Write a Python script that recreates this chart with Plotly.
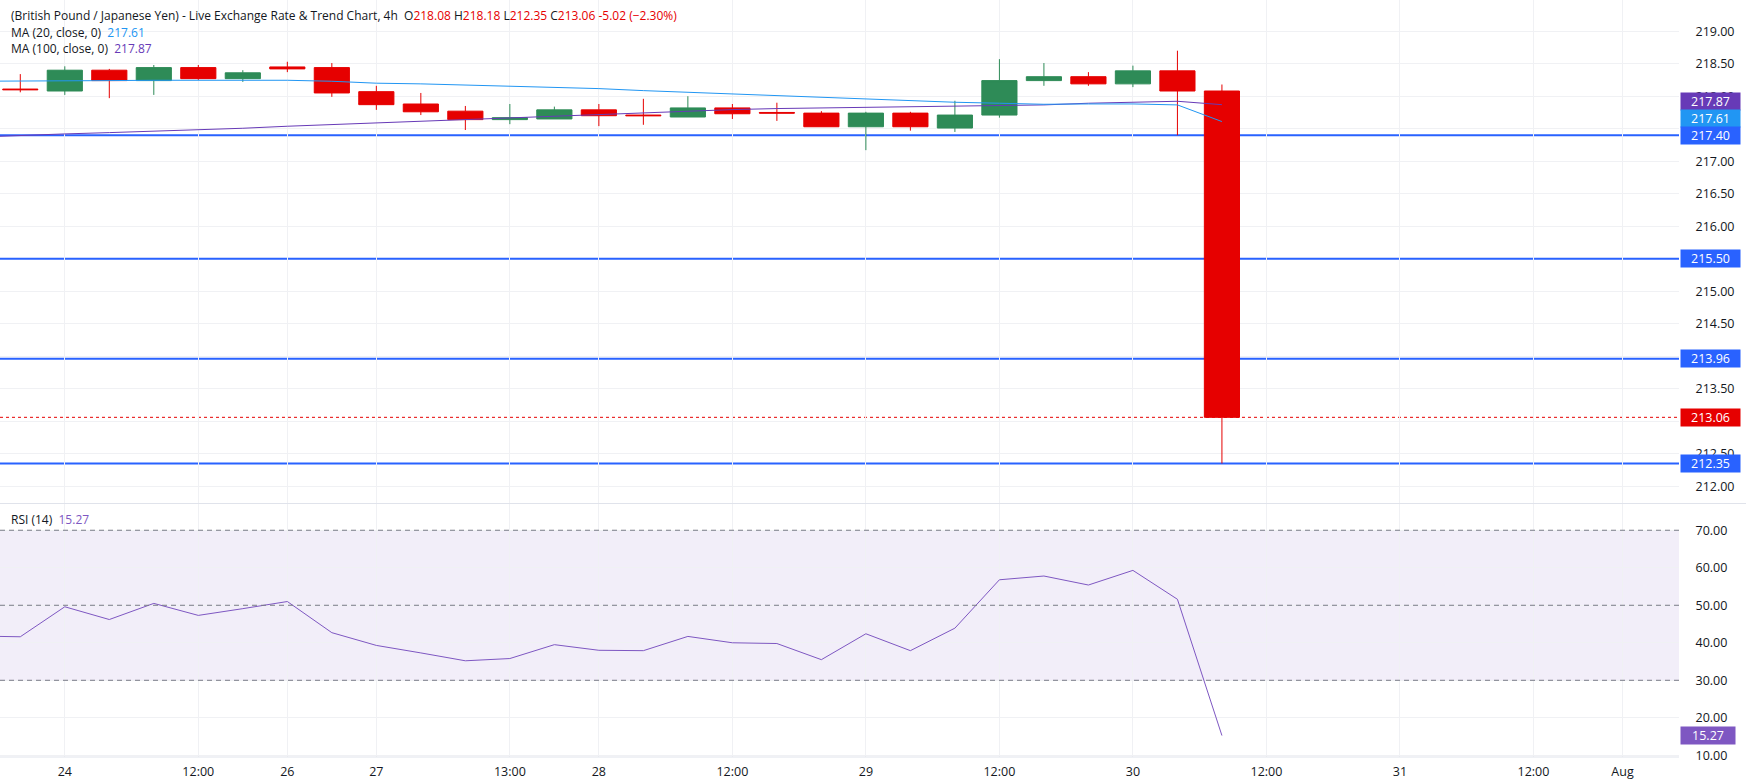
import plotly.graph_objects as go

# ---------------- data ----------------
BAR_INDEX = list(range(28))           # 4h bars shown on the chart
LINE_INDEX = list(range(-1, 28))      # indicator values (one bar before the first visible candle)

OPEN  = [218.11, 218.08, 218.40, 218.24, 218.44, 218.27, 218.45, 218.44, 218.07, 217.88,
         217.77, 217.64, 217.65, 217.79, 217.71, 217.68, 217.82, 217.75, 217.74, 217.53,
         217.74, 217.51, 217.71, 218.24, 218.30, 218.19, 218.39, 218.08]
HIGH  = [218.34, 218.46, 218.42, 218.48, 218.48, 218.40, 218.53, 218.51, 218.16, 218.05,
         217.85, 217.88, 217.84, 217.88, 217.96, 218.00, 217.88, 217.90, 217.77, 217.76,
         217.76, 217.93, 218.57, 218.51, 218.37, 218.47, 218.70, 218.18]
LOW   = [218.06, 218.02, 217.97, 218.02, 218.25, 218.22, 218.37, 217.99, 217.79, 217.71,
         217.48, 217.57, 217.65, 217.54, 217.56, 217.68, 217.65, 217.62, 217.53, 217.17,
         217.47, 217.45, 217.67, 218.16, 218.16, 218.14, 217.40, 212.35]
CLOSE = [218.10, 218.40, 218.24, 218.44, 218.27, 218.36, 218.42, 218.05, 217.87, 217.76,
         217.64, 217.67, 217.79, 217.70, 217.70, 217.82, 217.73, 217.74, 217.53, 217.74,
         217.53, 217.71, 218.24, 218.30, 218.19, 218.39, 218.08, 213.06]

MA20  = [218.23, 218.23, 218.23, 218.24, 218.245, 218.245, 218.245, 218.245, 218.23, 218.20,
         218.19, 218.17, 218.155, 218.138, 218.117, 218.086, 218.06, 218.03, 218.00, 217.98,
         217.953, 217.933, 217.907, 217.892, 217.876, 217.881, 217.881, 217.866, 217.61]
MA100 = [217.37, 217.40, 217.42, 217.44, 217.46, 217.48, 217.507, 217.538, 217.563, 217.59,
         217.615, 217.645, 217.672, 217.70, 217.725, 217.75, 217.775, 217.794, 217.81, 217.82,
         217.83, 217.835, 217.845, 217.856, 217.866, 217.892, 217.907, 217.922, 217.87]
RSI   = [41.8, 41.6, 49.6, 46.2, 50.5, 47.3, 49.1, 51.0, 42.7, 39.3,
         37.3, 35.2, 35.8, 39.5, 38.0, 37.9, 41.7, 40.0, 39.8, 35.5,
         42.4, 37.9, 43.9, 56.8, 57.8, 55.4, 59.3, 51.6, 15.27]

SUPPORT_LEVELS = [217.40, 215.50, 213.96, 212.35]
LAST_PRICE = 213.06
RSI_LEVELS = [70, 50, 30]

PRICE_TICKS = [212.0, 212.5, 213.0, 213.5, 214.0, 214.5, 215.0, 216.0, 216.5,
               217.0, 217.5, 218.0, 218.5, 219.0]
HIDDEN_PRICE_TICKS = [213.0, 214.0]   # fully covered by price labels
RSI_TICKS = [10, 20, 30, 40, 50, 60, 70]

TICK_POS  = [1, 4, 6, 8, 11, 13, 16, 19, 22, 25, 28, 31, 34, 36]
TICK_TEXT = ["24", "12:00", "26", "27", "13:00", "28", "12:00", "29", "12:00", "30",
             "12:00", "31", "12:00", "Aug"]

# ---------------- style ----------------
FONT = "Open Sans"
DARK = "#131722"
RED = "#E60000"
GREEN = "#2E8B57"
BLUE_LVL = "#2962FF"
MA20_C = "#2196F3"
MA100_C = "#673AB7"
RSI_C = "#7E57C2"
GRID = "#F0F1F4"

W, H = 1746, 782
ML, MR, MT, MB = 0, 67, 0, 25
PLOT_H = H - MT - MB
price_domain = [1 - 503 / PLOT_H, 1]
rsi_domain = [0, 1 - 504 / PLOT_H]

fig = go.Figure()

fig.add_trace(go.Scatter(x=LINE_INDEX, y=MA100, mode="lines", line=dict(color=MA100_C, width=1),
                         xaxis="x", yaxis="y", hoverinfo="skip"))
fig.add_trace(go.Scatter(x=LINE_INDEX, y=MA20, mode="lines", line=dict(color=MA20_C, width=1),
                         xaxis="x", yaxis="y", hoverinfo="skip"))
fig.add_trace(go.Candlestick(
    x=BAR_INDEX, open=OPEN, high=HIGH, low=LOW, close=CLOSE,
    increasing=dict(line=dict(color=GREEN, width=1), fillcolor=GREEN),
    decreasing=dict(line=dict(color=RED, width=1), fillcolor=RED),
    whiskerwidth=0, xaxis="x", yaxis="y", hoverinfo="skip"))
fig.add_trace(go.Scatter(x=LINE_INDEX, y=RSI, mode="lines", line=dict(color=RSI_C, width=1),
                         xaxis="x2", yaxis="y2", hoverinfo="skip"))

shapes = []
# RSI band
shapes.append(dict(type="rect", xref="x2 domain", yref="y2", x0=0, x1=1, y0=30, y1=70,
                   fillcolor="rgba(126,87,194,0.1)", line=dict(width=0), layer="below"))
for lv in RSI_LEVELS:
    shapes.append(dict(type="line", xref="x2 domain", yref="y2", x0=0, x1=1, y0=lv, y1=lv,
                       line=dict(color="#787B86", width=1, dash="5px,4px"), layer="above"))
for lv in SUPPORT_LEVELS:
    shapes.append(dict(type="line", xref="x domain", yref="y", x0=0, x1=1, y0=lv, y1=lv,
                       line=dict(color=BLUE_LVL, width=2), layer="below"))
shapes.append(dict(type="line", xref="x domain", yref="y", x0=0, x1=1, y0=LAST_PRICE, y1=LAST_PRICE,
                   line=dict(color=RED, width=1, dash="dot"), layer="below"))
# pane separator and bottom border
shapes.append(dict(type="line", xref="paper", yref="paper", x0=0, x1=1 + MR / (W - ML - MR),
                   y0=price_domain[0] - 0.0007, y1=price_domain[0] - 0.0007,
                   line=dict(color="#E0E3EB", width=1)))
shapes.append(dict(type="line", xref="paper", yref="paper", x0=0, x1=1,
                   y0=0, y1=0, line=dict(color="#E0E3EB", width=1)))

annotations = []
SEP = "&nbsp;"
hdr = ("(British Pound / Japanese Yen) - Live Exchange Rate &amp; Trend Chart, 4h"
       f"&nbsp;&nbsp;O<span style='color:{RED}'>{OPEN[-1]:.2f}</span>"
       f"{SEP}H<span style='color:{RED}'>{HIGH[-1]:.2f}</span>"
       f"{SEP}L<span style='color:{RED}'>{LOW[-1]:.2f}</span>"
       f"{SEP}C<span style='color:{RED}'>{CLOSE[-1]:.2f}</span>"
       f"{SEP}<span style='color:{RED}'>-5.02 (\u22122.30%)</span>")
header_lines = [
    (hdr, 15.5),
    (f"MA (20, close, 0)&nbsp;&nbsp;<span style='color:{MA20_C}'>{MA20[-1]:.2f}</span>", 32),
    (f"MA (100, close, 0)&nbsp;&nbsp;<span style='color:{MA100_C}'>{MA100[-1]:.2f}</span>", 48.5),
    (f"RSI (14)&nbsp;&nbsp;<span style='color:{RSI_C}'>{RSI[-1]:.2f}</span>", 519),
]
for txt, ypx in header_lines:
    annotations.append(dict(xref="paper", yref="paper", x=0, y=1, xanchor="left", yanchor="middle",
                            xshift=9, yshift=-ypx, text=txt, showarrow=False,
                            font=dict(family=FONT, size=12, color=DARK)))


def box(val, color, yref="y", yshift=0, width=59):
    return dict(xref="paper", x=1, xanchor="left", xshift=1, yref=yref, y=val, yanchor="middle",
                yshift=yshift, text=f"{val:.2f}", showarrow=False, bgcolor=color,
                font=dict(family=FONT, size=12.5, color="white"), width=width, height=17,
                borderpad=0, align="center")


annotations.append(box(MA100[-1], MA100_C, yshift=3))
annotations.append(box(MA20[-1], MA20_C, yshift=3.3))
for lv in SUPPORT_LEVELS:
    annotations.append(box(lv, BLUE_LVL))
annotations.append(box(LAST_PRICE, RED))
annotations.append(box(RSI[-1], RSI_C, yref="y2", width=54))

price_ticktext = ["" if v in HIDDEN_PRICE_TICKS else f"{v:.2f}" for v in PRICE_TICKS]

axis_font = dict(family=FONT, size=12.5, color=DARK)
fig.update_layout(
    width=W, height=H, margin=dict(l=ML, r=MR, t=MT, b=MB),
    paper_bgcolor="white", plot_bgcolor="white", showlegend=False,
    boxgap=0.21, boxgroupgap=0, hovermode=False,
    shapes=shapes, annotations=annotations,
    xaxis=dict(domain=[0, 1], anchor="y", range=[-0.456, 37.27], tickvals=TICK_POS,
               ticktext=TICK_TEXT, showticklabels=False, showgrid=True, gridcolor=GRID,
               zeroline=False, rangeslider=dict(visible=False), ticks=""),
    xaxis2=dict(domain=[0, 1], anchor="y2", matches="x", range=[-0.456, 37.27], tickvals=TICK_POS,
                ticktext=TICK_TEXT, showgrid=True, gridcolor=GRID, zeroline=False,
                ticks="outside", ticklen=3, tickcolor="rgba(0,0,0,0)", tickfont=axis_font),
    yaxis=dict(domain=price_domain, anchor="x", side="right", range=[211.742, 219.48],
               tickvals=PRICE_TICKS, ticktext=price_ticktext, showgrid=True, gridcolor=GRID,
               zeroline=False, ticks="outside", ticklen=13, tickcolor="rgba(0,0,0,0)",
               tickfont=axis_font),
    yaxis2=dict(domain=rsi_domain, anchor="x2", side="right", range=[9.55, 77.0],
                tickvals=RSI_TICKS, ticktext=[f"{v:.2f}" for v in RSI_TICKS], showgrid=True,
                gridcolor=GRID, zeroline=False, ticks="outside", ticklen=13,
                tickcolor="rgba(0,0,0,0)", tickfont=axis_font),
)

fig.write_html("out.html")
